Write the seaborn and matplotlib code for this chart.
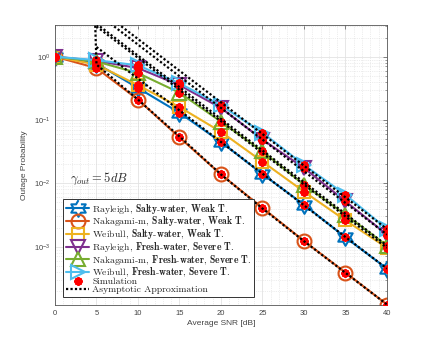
import numpy as np
import matplotlib
matplotlib.use('Agg')
import matplotlib.pyplot as plt
import seaborn as sns

# SNR grid (dB)
snr_db = [0, 5, 10, 15, 20, 25, 30, 35, 40]

# Outage probability
rayleigh_salty = [1.0, 0.78, 0.32, 0.13, 0.045, 0.014, 4.6e-3, 1.4e-3, 4.5e-4]
nakagami_salty = [1.0, 0.66, 0.21, 0.053, 0.0138, 4.1e-3, 1.23e-3, 3.9e-4, 1.22e-4]
weibull_salty = [1.0, 0.75, 0.355, 0.16, 0.065, 0.022, 7.4e-3, 2.6e-3, 9.6e-4]
rayleigh_fresh = [1.0, 0.86, 0.66, 0.355, 0.155, 0.049, 0.0175, 5.2e-3, 1.55e-3]
nakagami_fresh = [1.0, 0.84, 0.55, 0.27, 0.094, 0.032, 9.5e-3, 3.2e-3, 1.04e-3]
weibull_fresh = [1.0, 0.88, 0.73, 0.38, 0.17, 0.063, 0.0195, 6.6e-3, 1.9e-3]

# Asymptotic approximations (nan = not drawn, huge value = goes off the top)
asym_rayleigh_salty = [np.nan, 1.42, 0.45, 0.142, 0.045, 0.0142, 4.5e-3, 1.42e-3, 4.5e-4]
asym_nakagami_salty = [1e20, 0.75, 0.21, 0.055, 0.0138, 4.0e-3, 1.22e-3, 3.86e-4, 1.22e-4]
asym_weibull_salty = [np.nan, 3.0, 0.96, 0.30, 0.096, 0.030, 9.6e-3, 3.0e-3, 9.6e-4]
asym_rayleigh_fresh = [np.nan, 4.9, 1.55, 0.49, 0.155, 0.049, 0.0155, 4.9e-3, 1.55e-3]
asym_nakagami_fresh = [np.nan, 3.3, 1.04, 0.33, 0.104, 0.033, 0.0104, 3.3e-3, 1.04e-3]
asym_weibull_fresh = [np.nan, 6.0, 1.9, 0.60, 0.19, 0.060, 0.019, 6.0e-3, 1.9e-3]

labels = [
    r'Rayleigh, $\mathbf{Salty}$-$\mathbf{water}$, $\mathbf{Weak\ T.}$',
    r'Nakagami-m, $\mathbf{Salty}$-$\mathbf{water}$, $\mathbf{Weak\ T.}$',
    r'Weibull, $\mathbf{Salty}$-$\mathbf{water}$, $\mathbf{Weak\ T.}$',
    r'Rayleigh, $\mathbf{Fresh}$-$\mathbf{water}$, $\mathbf{Severe\ T.}$',
    r'Nakagami-m, $\mathbf{Fresh}$-$\mathbf{water}$, $\mathbf{Severe\ T.}$',
    r'Weibull, $\mathbf{Fresh}$-$\mathbf{water}$, $\mathbf{Severe\ T.}$',
]

# MATLAB default colour order
colors = ['#0072BD', '#D95319', '#EDB120', '#7E2F8E', '#77AC30', '#4DBEEE']

# six pointed star (MATLAB hexagram)
ang = np.pi / 2 + np.arange(12) * np.pi / 6
rad = np.where(np.arange(12) % 2 == 0, 1.0, 1 / np.sqrt(3))
hexagram = list(zip(rad * np.cos(ang), rad * np.sin(ang)))
markers = [hexagram, 'o', 's', 'v', '^', '>']
sizes = [12, 10, 9, 10, 10, 10]

sns.set_style('white')
plt.rcParams['mathtext.fontset'] = 'cm'
plt.rcParams['font.family'] = ['Liberation Sans', 'DejaVu Sans']

fig = plt.figure(figsize=(4.28, 3.43), dpi=100)
ax = fig.add_axes([0.1285, 0.1108, 0.7757, 0.8163])

series = [rayleigh_salty, nakagami_salty, weibull_salty,
          rayleigh_fresh, nakagami_fresh, weibull_fresh]
asym = [asym_rayleigh_salty, asym_nakagami_salty, asym_weibull_salty,
        asym_rayleigh_fresh, asym_nakagami_fresh, asym_weibull_fresh]

for vals, lab, col, mk, ms in zip(series, labels, colors, markers, sizes):
    sns.lineplot(x=snr_db, y=vals, ax=ax, color=col, lw=1.5, marker=mk, ms=ms,
                 mfc='none', mec=col, mew=1.5, label=lab, zorder=2)

# simulation points
for i, vals in enumerate(series):
    sns.lineplot(x=snr_db, y=vals, ax=ax, ls='', marker=(8, 2, 0), ms=6,
                 color='red', mec='red', mew=1.6, zorder=3,
                 label='Simulation' if i == 0 else None)

# asymptotic approximation
for i, vals in enumerate(asym):
    sns.lineplot(x=snr_db, y=vals, ax=ax, color='black', lw=1.6,
                 ls=(0, (1, 1)), zorder=4,
                 label='Asymptotic Approximation' if i == 0 else None)

ax.set_yscale('log')
ax.set_xlim(0, 40)
ax.set_ylim(1.2e-4, 10 ** 0.5)
ax.set_xticks(range(0, 41, 5))
ax.set_xticks(range(0, 41), minor=True)
ax.set_yticks([1e-3, 1e-2, 1e-1, 1])

ax.grid(True, which='major', color='#e3e3e3', lw=0.6, ls='-')
ax.grid(True, which='minor', color='#dcdcdc', lw=0.5, ls=':')
ax.set_axisbelow(True)
ax.tick_params(which='both', direction='in', top=True, right=True,
               colors='#555555', labelcolor='#444444', labelsize=5.5)
ax.tick_params(which='major', length=3, width=0.5)
ax.tick_params(which='minor', length=1.5, width=0.4)
ax.tick_params(axis='x', which='minor', length=0)
for s in ax.spines.values():
    s.set_color('#555555')
    s.set_linewidth(0.6)

ax.set_xlabel('Average SNR [dB]', fontsize=6, color='#444444', labelpad=2)
ax.set_ylabel('Outage Probability', fontsize=6, color='#444444', labelpad=4)

ax.text(1.8, 0.0118, r'$\gamma_{out} = 5dB$', fontsize=9, va='center')

leg = ax.legend(loc='lower left', bbox_to_anchor=(0.024, 0.029), borderaxespad=0,
                prop={'family': 'cmr10', 'size': 7.0}, fancybox=False,
                framealpha=1, edgecolor='#333333', handlelength=2.4,
                labelspacing=-0.13, borderpad=0.3, handletextpad=0.3)
leg.get_frame().set_linewidth(0.7)

fig.savefig('out.png', dpi=100)
